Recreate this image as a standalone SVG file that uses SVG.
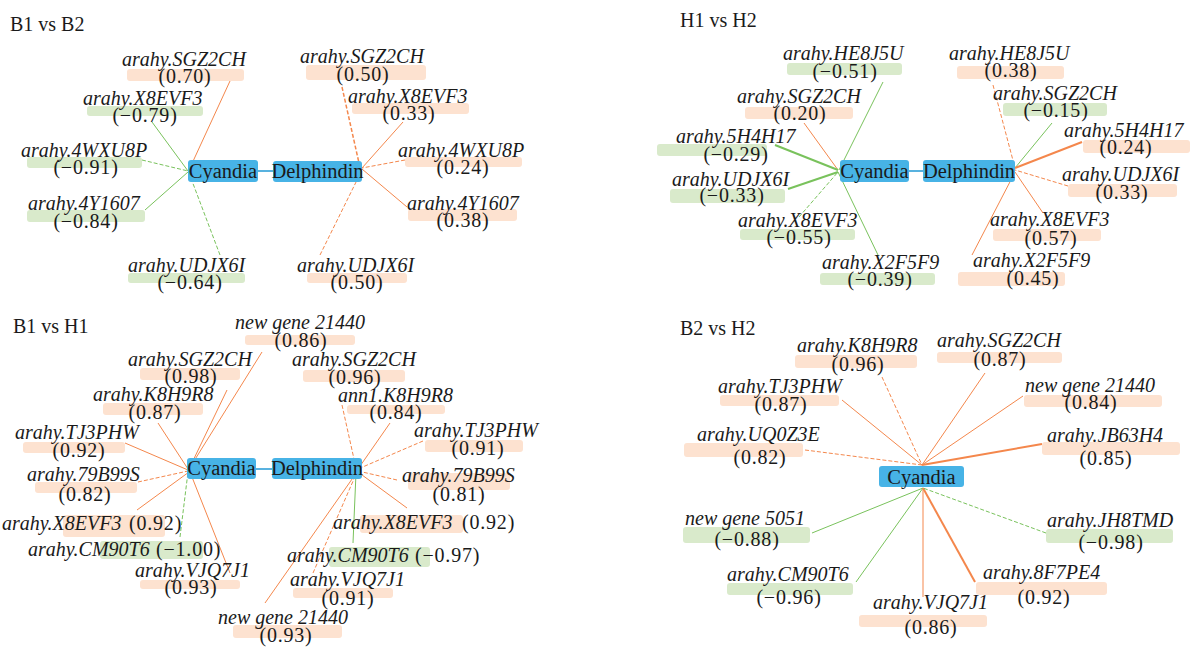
<svg xmlns="http://www.w3.org/2000/svg" width="1191" height="648" viewBox="0 0 1191 648">
<style>
text{font-family:"Liberation Serif","Times New Roman",serif;fill:#1a1a1a}
.t{font-size:20px}
.nm{font-size:20px;font-style:italic}
.v{font-size:20px;text-anchor:middle;letter-spacing:0.8px}
.vs{font-size:20px;letter-spacing:0.8px}
.hubt{font-size:20.5px;text-anchor:middle}
rect.o{fill:#fde2d0}
rect.g{fill:#d9eacb}
rect.hub{fill:#47b3e6}
line{stroke-width:1}
line.o{stroke:#f4874c}
line.g{stroke:#79c25c}
line.b{stroke:#2f9fd8;stroke-width:1.6}
line.d{stroke-dasharray:4 2}
line.k{stroke-width:2}
line.m{stroke-width:1.5}
</style>
<g id="titles">
<text class="t" x="10" y="31">B1 vs B2</text>
<text class="t" x="680" y="27">H1 vs H2</text>
<text class="t" x="13" y="333">B1 vs H1</text>
<text class="t" x="680" y="335">B2 vs H2</text>
</g>
<g id="connectors">
<!-- panel 1 -->
<line class="o" x1="230" y1="81" x2="189" y2="170"/>
<line class="g" x1="152" y1="122" x2="188" y2="171"/>
<line class="g d" x1="142" y1="160" x2="188" y2="171"/>
<line class="g" x1="145" y1="210" x2="188" y2="172"/>
<line class="g d" x1="220" y1="255" x2="189" y2="173"/>
<line class="b" x1="258" y1="171" x2="273" y2="171"/>
<line class="o d m" x1="342" y1="87" x2="361" y2="172"/>
<line class="o" x1="403" y1="122" x2="362" y2="168"/>
<line class="o d" x1="405" y1="160" x2="362" y2="168"/>
<line class="o" x1="407" y1="207" x2="362" y2="169"/>
<line class="o d" x1="320" y1="255" x2="361" y2="172"/>
<!-- panel 2 -->
<line class="g" x1="883" y1="82" x2="839" y2="170"/>
<line class="o" x1="804" y1="123" x2="838" y2="170"/>
<line class="g k" x1="775" y1="145" x2="838" y2="170"/>
<line class="g k" x1="788" y1="189" x2="838" y2="172"/>
<line class="g d" x1="799" y1="217" x2="838" y2="172"/>
<line class="g" x1="878" y1="255" x2="838" y2="172"/>
<line class="b" x1="909" y1="171" x2="923" y2="171"/>
<line class="o d" x1="993" y1="85" x2="1015" y2="168"/>
<line class="g" x1="1052" y1="123" x2="1015" y2="168"/>
<line class="o k" x1="1082" y1="142" x2="1015" y2="168"/>
<line class="o d" x1="1068" y1="186" x2="1015" y2="170"/>
<line class="o" x1="1043" y1="213" x2="1015" y2="172"/>
<line class="o" x1="972" y1="255" x2="1013" y2="176"/>
<!-- panel 3 -->
<line class="o" x1="262" y1="352" x2="189" y2="469"/>
<line class="o" x1="227" y1="390" x2="189" y2="469"/>
<line class="o" x1="158" y1="423" x2="188" y2="469"/>
<line class="o" x1="125" y1="443" x2="188" y2="470"/>
<line class="o d" x1="138" y1="482" x2="188" y2="471"/>
<line class="o" x1="137" y1="510" x2="189" y2="472"/>
<line class="g d" x1="180" y1="537" x2="188" y2="472"/>
<line class="o" x1="230" y1="573" x2="190" y2="472"/>
<line class="b" x1="256" y1="469" x2="272" y2="469"/>
<line class="o" x1="265" y1="603" x2="357" y2="472"/>
<line class="o d" x1="342" y1="405" x2="356" y2="468"/>
<line class="o" x1="390" y1="423" x2="358" y2="469"/>
<line class="o d" x1="423" y1="441" x2="358" y2="469"/>
<line class="o d" x1="397" y1="480" x2="358" y2="471"/>
<line class="o" x1="407" y1="508" x2="358" y2="472"/>
<line class="g" x1="353" y1="543" x2="356" y2="473"/>
<line class="o d" x1="313" y1="573" x2="357" y2="472"/>
<!-- panel 4 -->
<line class="o d" x1="882" y1="377" x2="922" y2="465"/>
<line class="o" x1="985" y1="373" x2="922" y2="465"/>
<line class="o" x1="1023" y1="396" x2="922" y2="465"/>
<line class="o k" x1="1042" y1="444" x2="922" y2="465"/>
<line class="o" x1="842" y1="400" x2="922" y2="465"/>
<line class="o d" x1="805" y1="450" x2="922" y2="465"/>
<line class="g" x1="812" y1="533" x2="923" y2="488"/>
<line class="g" x1="856" y1="582" x2="923" y2="488"/>
<line class="o" x1="923" y1="597" x2="923" y2="488"/>
<line class="o k" x1="975" y1="582" x2="923" y2="488"/>
<line class="g d" x1="1046" y1="533" x2="923" y2="488"/>
</g>

<!-- ============ Panel 1 ============ -->
<g id="p1-cyandia"><rect class="hub" x="188" y="160" width="70" height="22" rx="3"/><text class="hubt" x="223" y="178">Cyandia</text></g>
<g id="p1-delphindin"><rect class="hub" x="273" y="161" width="89" height="21" rx="3"/><text class="hubt" x="317.5" y="178">Delphindin</text></g>
<g id="p1-l-sgz2ch"><rect class="o" x="127" y="69" width="117" height="12" rx="3"/><text class="nm" x="122" y="66">arahy.SGZ2CH</text><text class="v" x="185" y="83">(0.70)</text></g>
<g id="p1-l-x8evf3"><rect class="g" x="87" y="106" width="116" height="10" rx="3"/><text class="nm" x="83" y="105">arahy.X8EVF3</text><text class="v" x="145" y="122">(−0.79)</text></g>
<g id="p1-l-4wxu8p"><rect class="g" x="27" y="157" width="115" height="11" rx="3"/><text class="nm" x="21" y="157">arahy.4WXU8P</text><text class="v" x="86" y="174">(−0.91)</text></g>
<g id="p1-l-4y1607"><rect class="g" x="27" y="210" width="118" height="12" rx="3"/><text class="nm" x="28" y="210">arahy.4Y1607</text><text class="v" x="86" y="228">(−0.84)</text></g>
<g id="p1-l-udjx6i"><rect class="g" x="128" y="273" width="117" height="10" rx="3"/><text class="nm" x="128" y="272">arahy.UDJX6I</text><text class="v" x="190" y="289">(−0.64)</text></g>
<g id="p1-r-sgz2ch"><rect class="o" x="306" y="65" width="120" height="15" rx="3"/><text class="nm" x="300" y="63">arahy.SGZ2CH</text><text class="v" x="363" y="81">(0.50)</text></g>
<g id="p1-r-x8evf3"><rect class="o" x="352" y="103" width="117" height="11" rx="3"/><text class="nm" x="348" y="103">arahy.X8EVF3</text><text class="v" x="409" y="120">(0.33)</text></g>
<g id="p1-r-4wxu8p"><rect class="o" x="405" y="157" width="117" height="10" rx="3"/><text class="nm" x="398" y="157">arahy.4WXU8P</text><text class="v" x="463" y="174">(0.24)</text></g>
<g id="p1-r-4y1607"><rect class="o" x="408" y="209" width="109" height="12" rx="3"/><text class="nm" x="407" y="210">arahy.4Y1607</text><text class="v" x="463" y="227">(0.38)</text></g>
<g id="p1-r-udjx6i"><rect class="o" x="307" y="273" width="100" height="10" rx="3"/><text class="nm" x="297" y="272">arahy.UDJX6I</text><text class="v" x="357" y="289">(0.50)</text></g>

<!-- ============ Panel 2 ============ -->
<g id="p2-cyandia"><rect class="hub" x="840" y="160" width="69" height="22" rx="3"/><text class="hubt" x="874.5" y="178">Cyandia</text></g>
<g id="p2-delphindin"><rect class="hub" x="923" y="160" width="92" height="22" rx="3"/><text class="hubt" x="969" y="178">Delphindin</text></g>
<g id="p2-l-he8j5u"><rect class="g" x="787" y="63" width="115" height="12" rx="3"/><text class="nm" x="783" y="60">arahy.HE8J5U</text><text class="v" x="845" y="78">(−0.51)</text></g>
<g id="p2-l-sgz2ch"><rect class="o" x="745" y="107" width="108" height="12" rx="3"/><text class="nm" x="737" y="103">arahy.SGZ2CH</text><text class="v" x="800" y="120">(0.20)</text></g>
<g id="p2-l-5h4h17"><rect class="g" x="657" y="144" width="110" height="12" rx="3"/><text class="nm" x="676" y="143">arahy.5H4H17</text><text class="v" x="736" y="161">(−0.29)</text></g>
<g id="p2-l-udjx6i"><rect class="g" x="670" y="189" width="115" height="14" rx="3"/><text class="nm" x="672" y="186">arahy.UDJX6I</text><text class="v" x="732" y="202">(−0.33)</text></g>
<g id="p2-l-x8evf3"><rect class="g" x="740" y="229" width="115" height="11" rx="3"/><text class="nm" x="738" y="227">arahy.X8EVF3</text><text class="v" x="799" y="244">(−0.55)</text></g>
<g id="p2-l-x2f5f9"><rect class="g" x="820" y="273" width="115" height="12" rx="3"/><text class="nm" x="822" y="269">arahy.X2F5F9</text><text class="v" x="880" y="286">(−0.39)</text></g>
<g id="p2-r-he8j5u"><rect class="o" x="957" y="66" width="107" height="13" rx="3"/><text class="nm" x="949" y="60">arahy.HE8J5U</text><text class="v" x="1011" y="77">(0.38)</text></g>
<g id="p2-r-sgz2ch"><rect class="g" x="1003" y="103" width="104" height="13" rx="3"/><text class="nm" x="993" y="100">arahy.SGZ2CH</text><text class="v" x="1056" y="117">(−0.15)</text></g>
<g id="p2-r-5h4h17"><rect class="o" x="1083" y="140" width="107" height="13" rx="3"/><text class="nm" x="1064" y="137">arahy.5H4H17</text><text class="v" x="1126" y="154">(0.24)</text></g>
<g id="p2-r-udjx6i"><rect class="o" x="1068" y="184" width="109" height="13" rx="3"/><text class="nm" x="1062" y="181">arahy.UDJX6I</text><text class="v" x="1122" y="199">(0.33)</text></g>
<g id="p2-r-x8evf3"><rect class="o" x="993" y="229" width="108" height="12" rx="3"/><text class="nm" x="990" y="226">arahy.X8EVF3</text><text class="v" x="1051" y="245">(0.57)</text></g>
<g id="p2-r-x2f5f9"><rect class="o" x="958" y="272" width="107" height="14" rx="3"/><text class="nm" x="973" y="267">arahy.X2F5F9</text><text class="v" x="1033" y="285">(0.45)</text></g>

<!-- ============ Panel 3 ============ -->
<g id="p3-cyandia"><rect class="hub" x="187" y="458" width="69" height="21" rx="3"/><text class="hubt" x="221.5" y="475">Cyandia</text></g>
<g id="p3-delphindin"><rect class="hub" x="272" y="458" width="90" height="21" rx="3"/><text class="hubt" x="317" y="475">Delphindin</text></g>
<g id="p3-l-ng21440"><rect class="o" x="245" y="335" width="110" height="10" rx="3"/><text class="nm" x="235" y="329">new gene 21440</text><text class="v" x="301" y="347">(0.86)</text></g>
<g id="p3-l-sgz2ch"><rect class="o" x="140" y="368" width="100" height="12" rx="3"/><text class="nm" x="128" y="366">arahy.SGZ2CH</text><text class="v" x="191" y="383">(0.98)</text></g>
<g id="p3-l-k8h9r8"><rect class="o" x="103" y="403" width="100" height="12" rx="3"/><text class="nm" x="93" y="401">arahy.K8H9R8</text><text class="v" x="155" y="419">(0.87)</text></g>
<g id="p3-l-tj3phw"><rect class="o" x="23" y="442" width="102" height="11" rx="3"/><text class="nm" x="15" y="439">arahy.TJ3PHW</text><text class="v" x="79" y="457">(0.92)</text></g>
<g id="p3-l-79b99s"><rect class="o" x="35" y="482" width="102" height="11" rx="3"/><text class="nm" x="27" y="481">arahy.79B99S</text><text class="v" x="85" y="501">(0.82)</text></g>
<g id="p3-l-x8evf3"><rect class="o" x="63" y="515" width="102" height="22" rx="3"/><text class="nm" x="2" y="530">arahy.X8EVF3</text><text class="vs" x="129" y="530">(0.92)</text></g>
<g id="p3-l-cm90t6"><rect class="g" x="100" y="541" width="103" height="18" rx="3"/><text class="nm" x="28" y="556">arahy.CM90T6</text><text class="vs" x="156" y="556">(−1.00)</text></g>
<g id="p3-l-vjq7j1"><rect class="o" x="140" y="580" width="100" height="9" rx="3"/><text class="nm" x="135" y="577">arahy.VJQ7J1</text><text class="v" x="191" y="594">(0.93)</text></g>
<g id="p3-r-ng21440"><rect class="o" x="233" y="625" width="109" height="13" rx="3"/><text class="nm" x="218" y="624">new gene 21440</text><text class="v" x="286" y="642">(0.93)</text></g>
<g id="p3-r-sgz2ch"><rect class="o" x="303" y="370" width="102" height="12" rx="3"/><text class="nm" x="292" y="366">arahy.SGZ2CH</text><text class="v" x="355" y="384">(0.96)</text></g>
<g id="p3-r-k8h9r8"><rect class="o" x="347" y="405" width="98" height="9" rx="3"/><text class="nm" x="338" y="402">ann1.K8H9R8</text><text class="v" x="396" y="419">(0.84)</text></g>
<g id="p3-r-tj3phw"><rect class="o" x="425" y="440" width="98" height="12" rx="3"/><text class="nm" x="414" y="437">arahy.TJ3PHW</text><text class="v" x="478" y="455">(0.91)</text></g>
<g id="p3-r-79b99s"><rect class="o" x="408" y="473" width="102" height="17" rx="3"/><text class="nm" x="402" y="482">arahy.79B99S</text><text class="v" x="459" y="501">(0.81)</text></g>
<g id="p3-r-x8evf3"><rect class="o" x="360" y="515" width="103" height="18" rx="3"/><text class="nm" x="333" y="529">arahy.X8EVF3</text><text class="vs" x="462" y="529">(0.92)</text></g>
<g id="p3-r-cm90t6"><rect class="g" x="329" y="547" width="101" height="20" rx="3"/><text class="nm" x="287" y="562">arahy.CM90T6</text><text class="vs" x="415" y="562">(−0.97)</text></g>
<g id="p3-r-vjq7j1"><rect class="o" x="293" y="588" width="100" height="10" rx="3"/><text class="nm" x="290" y="586">arahy.VJQ7J1</text><text class="v" x="348" y="605">(0.91)</text></g>

<!-- ============ Panel 4 ============ -->
<g id="p4-cyandia"><rect class="hub" x="879" y="466" width="85" height="21" rx="3"/><text class="hubt" x="921.5" y="484">Cyandia</text></g>
<g id="p4-k8h9r8"><rect class="o" x="795" y="355" width="122" height="13" rx="3"/><text class="nm" x="797" y="352">arahy.K8H9R8</text><text class="v" x="858" y="371">(0.96)</text></g>
<g id="p4-sgz2ch"><rect class="o" x="937" y="352" width="125" height="11" rx="3"/><text class="nm" x="937" y="347">arahy.SGZ2CH</text><text class="v" x="1000" y="366">(0.87)</text></g>
<g id="p4-ng21440"><rect class="o" x="1024" y="395" width="138" height="12" rx="3"/><text class="nm" x="1025" y="392">new gene 21440</text><text class="v" x="1091" y="409">(0.84)</text></g>
<g id="p4-jb63h4"><rect class="o" x="1042" y="442" width="138" height="13" rx="3"/><text class="nm" x="1047" y="442">arahy.JB63H4</text><text class="v" x="1106" y="465">(0.85)</text></g>
<g id="p4-tj3phw"><rect class="o" x="720" y="395" width="119" height="11" rx="3"/><text class="nm" x="718" y="393">arahy.TJ3PHW</text><text class="v" x="781" y="411">(0.87)</text></g>
<g id="p4-uq0z3e"><rect class="o" x="684" y="443" width="119" height="14" rx="3"/><text class="nm" x="697" y="441">arahy.UQ0Z3E</text><text class="v" x="760" y="464">(0.82)</text></g>
<g id="p4-ng5051"><rect class="g" x="683" y="527" width="127" height="16" rx="3"/><text class="nm" x="685" y="525">new gene 5051</text><text class="v" x="747" y="546">(−0.88)</text></g>
<g id="p4-cm90t6"><rect class="g" x="727" y="583" width="126" height="12" rx="3"/><text class="nm" x="727" y="581">arahy.CM90T6</text><text class="v" x="789" y="604">(−0.96)</text></g>
<g id="p4-vjq7j1"><rect class="o" x="859" y="615" width="128" height="12" rx="3"/><text class="nm" x="873" y="609">arahy.VJQ7J1</text><text class="v" x="931" y="634">(0.86)</text></g>
<g id="p4-8f7pe4"><rect class="o" x="976" y="582" width="131" height="13" rx="3"/><text class="nm" x="983" y="579">arahy.8F7PE4</text><text class="v" x="1044" y="604">(0.92)</text></g>
<g id="p4-jh8tmd"><rect class="g" x="1046" y="529" width="127" height="14" rx="3"/><text class="nm" x="1047" y="527">arahy.JH8TMD</text><text class="v" x="1111" y="549">(−0.98)</text></g>
</svg>
